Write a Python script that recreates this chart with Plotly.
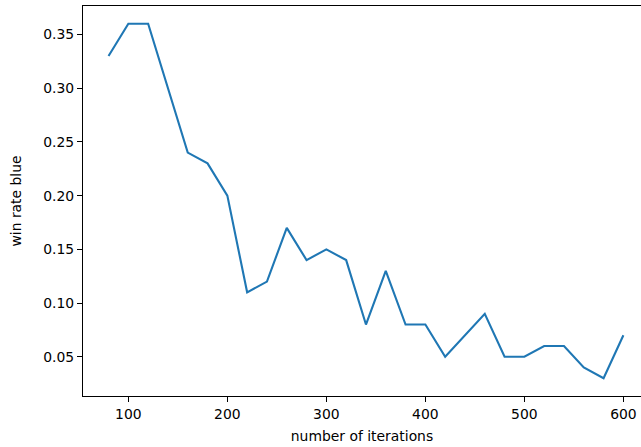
import plotly.graph_objects as go

iterations = [80, 100, 120, 140, 160, 180, 200, 220, 240, 260, 280, 300, 320, 340,
              360, 380, 400, 420, 440, 460, 480, 500, 520, 540, 560, 580, 600]
win_rate_blue = [0.33, 0.36, 0.36, 0.30, 0.24, 0.23, 0.20, 0.11, 0.12, 0.17, 0.14, 0.15, 0.14, 0.08,
                 0.13, 0.08, 0.08, 0.05, 0.07, 0.09, 0.05, 0.05, 0.06, 0.06, 0.04, 0.03, 0.07]
x_ticks = [100, 200, 300, 400, 500, 600]
y_ticks = [0.05, 0.10, 0.15, 0.20, 0.25, 0.30, 0.35]

fig = go.Figure()
fig.add_trace(go.Scatter(x=iterations, y=win_rate_blue, mode="lines",
                         line=dict(color="#1f77b4", width=2.1), showlegend=False,
                         cliponaxis=False))

font = dict(family="DejaVu Sans", size=13.9, color="black")
fig.update_layout(
    width=641, height=447,
    margin=dict(l=83, r=0, t=6, b=51, autoexpand=False),
    paper_bgcolor="white", plot_bgcolor="white",
    font=font,
    xaxis=dict(range=[54.2, 617.8], tickvals=x_ticks, ticks="outside", ticklen=5,
               tickwidth=1, tickcolor="black", showline=True, linecolor="black",
               linewidth=1.2, mirror=True, showgrid=False, zeroline=False,
               automargin=False,
               title=dict(text="number of iterations", standoff=10, font=font),
               tickfont=font),
    yaxis=dict(range=[0.0135, 0.3765], tickvals=y_ticks, tickformat=".2f",
               ticks="outside", ticklen=5, tickwidth=1, tickcolor="black",
               showline=True, linecolor="black", linewidth=1.2, mirror=False,
               showgrid=False, zeroline=False, automargin=False,
               title=dict(text="win rate blue", standoff=18, font=font),
               tickfont=font),
)
fig.write_html("out.html", config={"displayModeBar": False},
               post_script="document.body.style.margin='0';document.body.style.padding='0';document.body.style.overflow='hidden';")
